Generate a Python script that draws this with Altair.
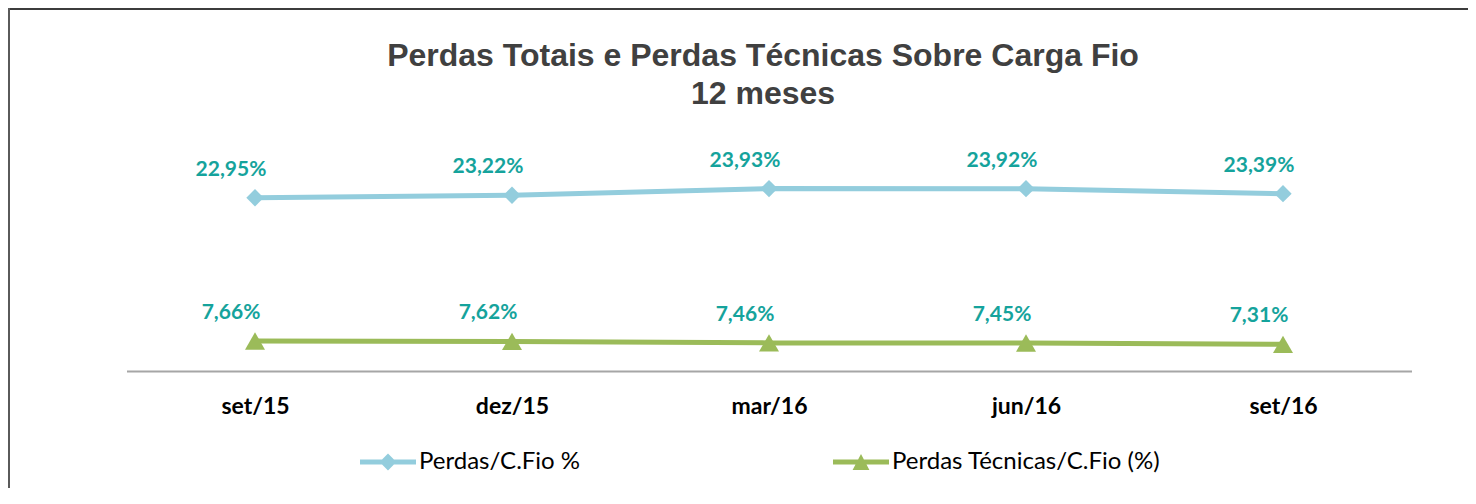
import altair as alt
import pandas as pd

months = ["set/15", "dez/15", "mar/16", "jun/16", "set/16"]
series_names = ["Perdas/C.Fio %", "Perdas Técnicas/C.Fio (%)"]
perdas = [22.95, 23.22, 23.93, 23.92, 23.39]
tecnicas = [7.66, 7.62, 7.46, 7.45, 7.31]
title_lines = ["Perdas Totais e Perdas Técnicas Sobre Carga Fio", "12 meses"]
colors = ["#93CDDD", "#9BBB59"]

rows = []
for name, vals in zip(series_names, [perdas, tecnicas]):
    for m, v in zip(months, vals):
        rows.append({"month": m, "series": name, "value": v,
                     "label": f"{v:.2f}".replace(".", ",") + "%"})
df = pd.DataFrame(rows)

W, H = 1460, 480

x_enc = alt.X(
    "month:N", sort=months,
    scale=alt.Scale(type="point", range=[118.5, 1403.5], padding=0.5),
    axis=alt.Axis(title=None, labelAngle=0, ticks=False, grid=False,
                  domainColor="#A6A6A6", domainWidth=2,
                  labelFont="Lato", labelFontWeight="bold", labelFontSize=23,
                  labelColor="black", labelPadding=24, offset=-117),
)
y_enc = alt.Y("value:Q", scale=alt.Scale(domain=[0, 30], range=[404.8, 123.7]), axis=None)

expr = ("datum.value === '%s' ? 'M-1,-0.09L1,-0.09L1,0.09L-1,0.09Z M0,-0.3L0.3,0L0,0.3L-0.3,0Z' "
        ": 'M-1,-0.09L1,-0.09L1,0.09L-1,0.09Z M0,-0.29L0.3,0.29L-0.3,0.29Z'") % series_names[0]

legend = alt.Legend(
    title=None, orient="none", legendX=352, legendY=426, direction="horizontal",
    columns=2, columnPadding=252, symbolSize=3136, symbolStrokeWidth=0,
    symbolType=alt.ExprRef(expr=expr),
    symbolFillColor=alt.ExprRef(expr="scale('color', datum.value)"),
    symbolOpacity=1,
    labelFont="Lato", labelFontSize=24, labelColor="black", labelOffset=3,
    labelLimit=500, padding=0,
)
color_enc = alt.Color("series:N", scale=alt.Scale(domain=series_names, range=colors), legend=legend)

base = alt.Chart(df)
lines = base.mark_line(strokeWidth=5).encode(x=x_enc, y=y_enc, color=color_enc)
pts1 = base.transform_filter(alt.datum.series == series_names[0]).mark_point(
    shape="diamond", size=300, filled=True, opacity=1).encode(x=x_enc, y=y_enc, color=color_enc)
pts2 = base.transform_filter(alt.datum.series == series_names[1]).mark_point(
    shape="triangle-up", size=400, filled=True, opacity=1).encode(x=x_enc, y=y_enc, color=color_enc)
labels = base.mark_text(font="Lato", fontWeight="bold", fontSize=21, color="#15A39C",
                        dx=-24, dy=-28, baseline="middle").encode(x=x_enc, y=y_enc, text="label:N")

t1 = alt.Chart(pd.DataFrame({"t": [title_lines[0]]})).mark_text(
    font="Liberation Sans", fontWeight="bold", fontSize=32, color="#404040",
    align="center", baseline="alphabetic").encode(x=alt.value(755), y=alt.value(58), text="t:N")
t2 = alt.Chart(pd.DataFrame({"t": [title_lines[1]]})).mark_text(
    font="Liberation Sans", fontWeight="bold", fontSize=32, color="#404040",
    align="center", baseline="alphabetic").encode(x=alt.value(755), y=alt.value(96), text="t:N")

one = pd.DataFrame({"a": [0]})
top_border = alt.Chart(one).mark_rule(color="#3C3C3C", strokeWidth=2).encode(
    x=alt.value(0), x2=alt.value(W), y=alt.value(1))
left_border = alt.Chart(one).mark_rule(color="#5A5A5A", strokeWidth=2).encode(
    x=alt.value(1), y=alt.value(0), y2=alt.value(H))

chart = alt.layer(top_border, left_border, t1, t2, lines, pts1, pts2, labels).properties(
    width=W, height=H, padding=0, autosize="none", background="white"
).configure_view(stroke=None)

chart.save("out.html", embed_options={"renderer": "svg", "actions": False})
